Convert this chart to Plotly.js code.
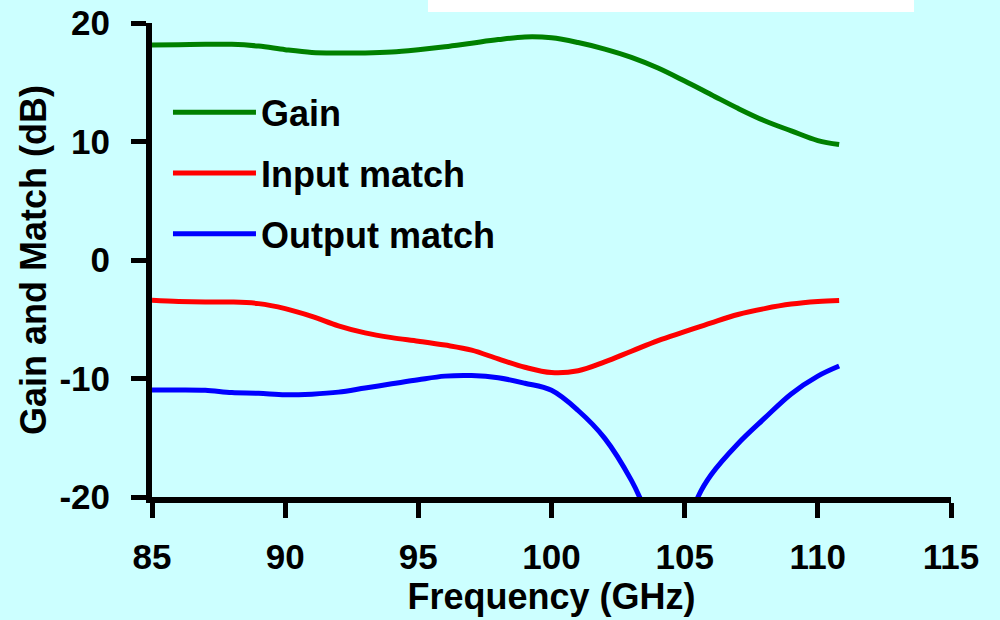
<!DOCTYPE html>
<html>
<head>
<meta charset="utf-8">
<script src="https://cdn.plot.ly/plotly-3.0.1.min.js"></script>
<style>html,body{margin:0;padding:0;background:#CCFFFF;}</style>
</head>
<body>
<div id="chart" style="width:1000px;height:620px;"></div>
<script>
// Frequency grid (GHz) for gain and input match
const freq = [85,86,87,88,89,90,91,92,93,94,95,96,97,98,99,100,101,102,103,104,105,106,107,108,109,110,110.8];
// Gain (dB)
const gain = [18.15,18.17,18.2,18.2,18.05,17.75,17.52,17.47,17.47,17.55,17.75,18.0,18.3,18.6,18.82,18.75,18.35,17.8,17.1,16.2,15.1,13.95,12.8,11.75,10.9,10.08,9.74];
// Input match (dB)
const inputMatch = [-3.4,-3.5,-3.55,-3.55,-3.68,-4.1,-4.75,-5.55,-6.15,-6.55,-6.85,-7.18,-7.6,-8.35,-9.05,-9.5,-9.35,-8.6,-7.7,-6.8,-6.05,-5.3,-4.6,-4.1,-3.72,-3.5,-3.41];
// Frequency grid (GHz) for output match (denser around the notch)
const freqOut = [85,86,87,88,89,90,91,92,93,94,95,96,97,98,99,100,101,102,103,103.5,104,104.5,105,105.5,106,107,108,109,110,110.8];
// Output match (dB)
const outputMatch = [-10.97,-10.97,-11.0,-11.19,-11.25,-11.38,-11.32,-11.15,-10.8,-10.45,-10.1,-9.8,-9.75,-9.93,-10.4,-11.0,-12.7,-15.05,-18.6,-21.0,-24,-26,-23.5,-20.0,-18.1,-15.5,-13.35,-11.3,-9.8,-8.95];

const seriesNames = ['Gain', 'Input match', 'Output match'];
const seriesColors = ['#008000', '#FF0000', '#0000FF'];
const xTicks = [85, 90, 95, 100, 105, 110, 115];
const yTicks = [-20, -10, 0, 10, 20];
const xTitle = 'Frequency (GHz)';
const yTitle = 'Gain and Match (dB)';

const xs = [freq, freq, freqOut];
const ys = [gain, inputMatch, outputMatch];

const traces = seriesNames.map((name, i) => ({
  type: 'scatter',
  mode: 'lines',
  name: name,
  x: xs[i],
  y: ys[i],
  legendgroup: 'g' + i,
  line: {color: seriesColors[i], width: 5, shape: 'spline', smoothing: 1}
}));

const fontFam = 'Liberation Sans, Arial, Helvetica, sans-serif';

const axisCommon = {
  showline: true,
  linewidth: 6,
  linecolor: '#000',
  ticks: 'outside',
  ticklen: 15,
  tickwidth: 5,
  tickcolor: '#000',
  showgrid: false,
  zeroline: false,
  automargin: false,
  fixedrange: true
};

const layout = {
  width: 1000,
  height: 620,
  paper_bgcolor: '#CCFFFF',
  plot_bgcolor: '#CCFFFF',
  margin: {l: 152, r: 49, t: 23, b: 123, pad: 0},
  font: {family: fontFam, color: '#000', weight: 'bold'},
  xaxis: Object.assign({}, axisCommon, {
    range: [85, 115],
    tickmode: 'array',
    tickvals: xTicks,
    ticktext: xTicks.map(String),
    tickfont: {family: fontFam, size: 35, weight: 'bold', color: '#000'},
    ticklabelstandoff: 9,
    title: {text: xTitle, font: {family: fontFam, size: 36, weight: 'bold', color: '#000'}, standoff: 8}
  }),
  yaxis: Object.assign({}, axisCommon, {
    range: [-20, 20],
    tickmode: 'array',
    tickvals: yTicks,
    ticktext: yTicks.map(String),
    tickfont: {family: fontFam, size: 35, weight: 'bold', color: '#000'},
    ticklabelstandoff: 14,
    title: {text: yTitle, font: {family: fontFam, size: 36, weight: 'bold', color: '#000'}, standoff: 4}
  }),
  showlegend: true,
  legend: {
    x: 0.02, y: 0.875, xanchor: 'left', yanchor: 'top',
    bgcolor: 'rgba(0,0,0,0)', borderwidth: 0,
    font: {family: fontFam, size: 36, weight: 'bold', color: '#000'},
    itemwidth: 83,
    tracegroupgap: 11
  },
  shapes: [{
    type: 'rect', xref: 'paper', yref: 'paper',
    x0: 0.3454, x1: 0.9537, y0: 1.0232, y1: 1.07,
    fillcolor: '#FFFFFF', line: {width: 0}, layer: 'above'
  }]
};

Plotly.newPlot('chart', traces, layout, {displayModeBar: false, staticPlot: true});
</script>
</body>
</html>
